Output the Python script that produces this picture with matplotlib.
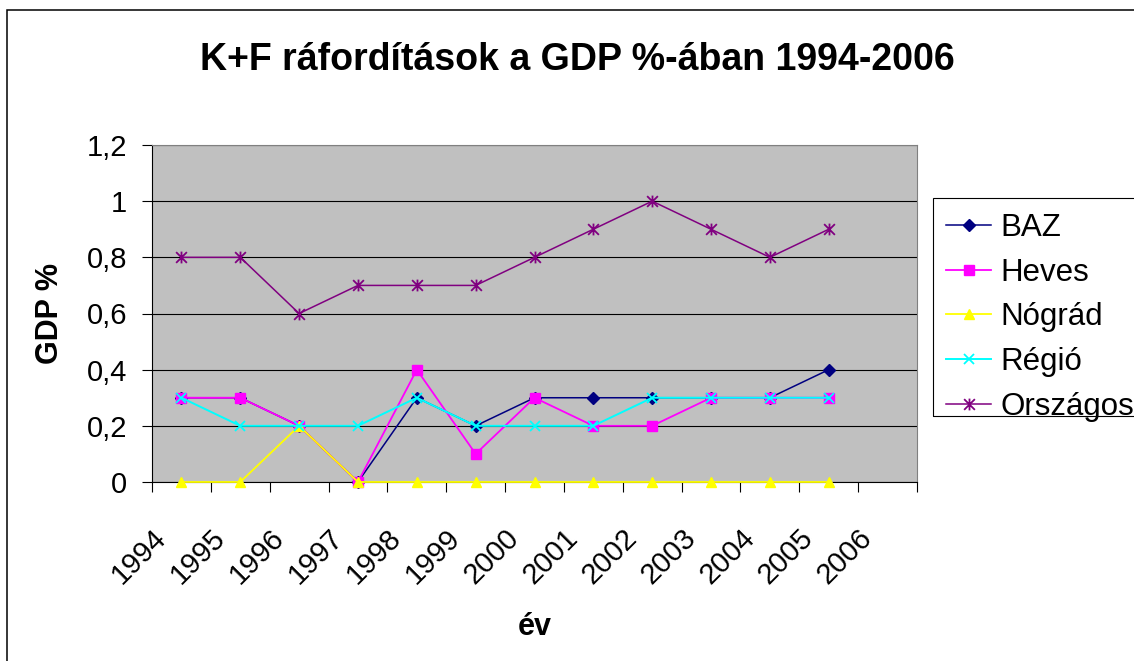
import numpy as np
import matplotlib
matplotlib.use('Agg')
import matplotlib.pyplot as plt
from matplotlib.path import Path
import matplotlib.transforms as mtransforms
import matplotlib.patches as mpatches

# ---- data ----
years = ['1994', '1995', '1996', '1997', '1998', '1999', '2000',
         '2001', '2002', '2003', '2004', '2005', '2006']
baz = [0.3, 0.3, 0.2, 0.0, 0.3, 0.2, 0.3, 0.3, 0.3, 0.3, 0.3, 0.4]
heves = [0.3, 0.3, 0.2, 0.0, 0.4, 0.1, 0.3, 0.2, 0.2, 0.3, 0.3, 0.3]
nograd = [0.0, 0.0, 0.2, 0.0, 0.0, 0.0, 0.0, 0.0, 0.0, 0.0, 0.0, 0.0]
regio = [0.3, 0.2, 0.2, 0.2, 0.3, 0.2, 0.2, 0.2, 0.3, 0.3, 0.3, 0.3]
orszagos = [0.8, 0.8, 0.6, 0.7, 0.7, 0.7, 0.8, 0.9, 1.0, 0.9, 0.8, 0.9]
series_names = ['BAZ', 'Heves', 'Nógrád', 'Régió', 'Országos']
y_ticks = [0, 0.2, 0.4, 0.6, 0.8, 1.0, 1.2]
y_tick_labels = ['0', '0,2', '0,4', '0,6', '0,8', '1', '1,2']
title = 'K+F ráfordítások a GDP %-ában 1994-2006'
x_title = 'év'
y_title = 'GDP %'

plt.rcParams['font.family'] = ['Liberation Sans', 'DejaVu Sans']

W, H, DPI = 1134, 661, 100
fig = plt.figure(figsize=(W / DPI, H / DPI), dpi=DPI)
fig.patch.set_facecolor('white')

L, R, T, B = 152, 917, 145, 482
ax = fig.add_axes([L / W, 1 - B / H, (R - L) / W, (B - T) / H])
ax.set_facecolor('#C0C0C0')

# asterisk marker: x plus vertical line
star = Path([(-1, -1), (1, 1), (-1, 1), (1, -1), (0, -1.1), (0, 1.1)],
            [Path.MOVETO, Path.LINETO, Path.MOVETO, Path.LINETO, Path.MOVETO, Path.LINETO])

xs = np.arange(len(baz)) + 0.5
styles = [
    dict(color='#000080', marker='D', ms=6, lw=1.1, mec='#000080', mfc='#000080'),
    dict(color='#FF00FF', marker='s', ms=7, lw=1.3, mec='#FF00FF', mfc='#FF00FF'),
    dict(color='#FFFF00', marker='^', ms=7.5, lw=1.3, mec='#FFFF00', mfc='#FFFF00'),
    dict(color='#00FFFF', marker='x', ms=7, lw=1.4, mec='#00FFFF', mew=1.3),
    dict(color='#800080', marker=star, ms=8.5, lw=1.1, mec='#800080', mew=1.3),
]
handles = []
for vals, name, st in zip([baz, heves, nograd, regio, orszagos], series_names, styles):
    h, = ax.plot(xs, vals, label=name, clip_on=False, zorder=3, **st)
    handles.append(h)

ax.set_xlim(0, len(years))
ax.set_ylim(0, 1.2)
ax.set_xticks(np.arange(len(years) + 1))
ax.set_xticklabels([])
ax.set_yticks(y_ticks)
ax.set_yticklabels(y_tick_labels, fontsize=21)
ax.tick_params(axis='both', direction='out', length=7, width=0.8, color='black')
ax.tick_params(axis='y', pad=11)
ax.yaxis.grid(True, color='black', lw=0.8)
ax.set_axisbelow(True)
for s in ['left', 'bottom']:
    ax.spines[s].set_color('black')
    ax.spines[s].set_linewidth(0.8)
for s in ['top', 'right']:
    ax.spines[s].set_color('#808080')
    ax.spines[s].set_linewidth(0.8)

# rotated category labels
off = mtransforms.offset_copy(ax.get_xaxis_transform(), fig=fig, x=-14, y=-57, units='dots')
for i, yr in enumerate(years):
    ax.text(i + 0.5, 0, yr, transform=off, rotation=45, rotation_mode='anchor',
            ha='right', va='baseline', fontsize=21)

ax.set_ylabel(y_title, fontsize=22, fontweight='bold', va='center')
ax.yaxis.set_label_coords((50 - L) / (R - L), 0.5)
ax.set_xlabel(x_title, fontsize=22, fontweight='bold', va='baseline')
ax.xaxis.set_label_coords(0.5, (B - 635) / (B - T))

fig.text(577 / W, 1 - 70 / H, title, ha='center', va='baseline',
         fontsize=27, fontweight='bold')

leg = ax.legend(handles=handles, loc='upper left', bbox_to_anchor=(933 / W, 1 - 200 / H),
                bbox_transform=fig.transFigure, fontsize=22.5, frameon=False,
                borderpad=0.42, labelspacing=0.468,
                handlelength=1.45, handletextpad=0.3, borderaxespad=0)

# legend frame (right side runs past the image edge as in the reference)
fig.patches.append(mpatches.Rectangle((933 / W, 1 - 416 / H), 0.5, (416 - 198) / H,
                                      transform=fig.transFigure, fill=False,
                                      edgecolor='black', lw=0.8))

fig.patches.append(mpatches.Rectangle((7 / W, -0.5), 2, 0.5 + 1 - 10 / H,
                                      transform=fig.transFigure, fill=False,
                                      edgecolor='black', lw=1.1))

fig.savefig('out.png', dpi=DPI)
